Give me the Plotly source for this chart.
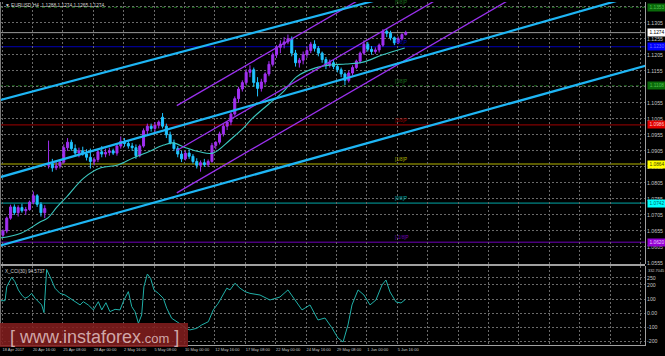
import plotly.graph_objects as go

# ---------------- data ----------------
tick_bars = [0, 16, 32, 48, 64, 80, 96, 112, 128, 144, 160, 176, 192, 208,
             224, 240, 256, 272, 288, 304, 320, 336]
tick_text = ["18 Apr 2017", "20 Apr 16:00", "25 Apr 08:00", "28 Apr 00:00",
             "2 May 16:00", "5 May 08:00", "10 May 00:00", "12 May 16:00",
             "17 May 08:00", "22 May 00:00", "24 May 16:00", "29 May 08:00",
             "1 Jun 00:00", "5 Jun 16:00", "", "", "", "", "", "", "", ""]

candle_bar = [b + 0.5 for b in range(0, 213, 2)]
opens = [1.0642,1.0655,1.0695, 1.0730,1.0712,1.0728, 1.0718,1.0722,1.0745, 1.0765,1.0738,1.0712,
         1.0860,1.0865,1.0852, 1.0858,1.0870,1.0915, 1.0932,1.0912,1.0898, 1.0905,1.0895,1.0885,
         1.0872,1.0878,1.0902, 1.0895,1.0900,1.0905, 1.0898,1.0920,1.0935, 1.0928,1.0920,1.0915,
         1.0890,1.0920,1.0968, 1.0982,1.0975,1.0985, 1.1010,1.0982,1.0955, 1.0930,1.0912,1.0895,
         1.0880,1.0898,1.0888, 1.0872,1.0860,1.0868, 1.0862,1.0872,1.0922, 1.0932,1.0958,1.0982,
         1.0995,1.1020,1.1068, 1.1098,1.1118,1.1150, 1.1158,1.1118,1.1100, 1.1120,1.1145,1.1175,
         1.1205,1.1228,1.1238, 1.1245,1.1255,1.1210, 1.1180,1.1188,1.1205, 1.1218,1.1238,1.1225,
         1.1210,1.1190,1.1172, 1.1180,1.1168,1.1158, 1.1145,1.1125,1.1148, 1.1165,1.1185,1.1210,
         1.1238,1.1222,1.1215, 1.1220,1.1235,1.1278, 1.1272,1.1258,1.1242, 1.1255,1.1268]
highs = [1.0660,1.0700,1.0737, 1.0738,1.0735,1.0740, 1.0730,1.0750,1.0778, 1.0770,1.0745,1.0735,
         1.0937,1.0880,1.0870, 1.0875,1.0925,1.0945, 1.0940,1.0925,1.0915, 1.0918,1.0910,1.0912,
         1.0885,1.0910,1.0920, 1.0912,1.0915,1.0912, 1.0925,1.0950,1.0945, 1.0935,1.0930,1.0925,
         1.0925,1.0975,1.0990, 1.0990,1.0995,1.1000, 1.1023,1.0990,1.0965, 1.0940,1.0920,1.0905,
         1.0905,1.0910,1.0895, 1.0882,1.0875,1.0880, 1.0878,1.0930,1.0935, 1.0965,1.0990,1.0995,
         1.1025,1.1075,1.1105, 1.1125,1.1160,1.1172, 1.1165,1.1135,1.1130, 1.1150,1.1185,1.1212,
         1.1235,1.1250,1.1260, 1.1268,1.1262,1.1220, 1.1195,1.1215,1.1230, 1.1245,1.1250,1.1232,
         1.1215,1.1198,1.1190, 1.1190,1.1175,1.1165, 1.1150,1.1155,1.1172, 1.1190,1.1215,1.1250,
         1.1245,1.1232,1.1228, 1.1240,1.1285,1.1285, 1.1280,1.1262,1.1262, 1.1272,1.1280]
lows = [1.0635,1.0648,1.0690, 1.0705,1.0700,1.0712, 1.0705,1.0718,1.0738, 1.0730,1.0700,1.0695,
        1.0850,1.0840,1.0845, 1.0850,1.0865,1.0905, 1.0905,1.0890,1.0885, 1.0890,1.0875,1.0850,
        1.0860,1.0870,1.0885, 1.0885,1.0890,1.0892, 1.0890,1.0912,1.0918, 1.0912,1.0905,1.0880,
        1.0885,1.0915,1.0955, 1.0965,1.0960,1.0975, 1.0975,1.0945,1.0925, 1.0905,1.0885,1.0870,
        1.0875,1.0880,1.0865, 1.0850,1.0840,1.0855, 1.0855,1.0868,1.0910, 1.0925,1.0950,1.0970,
        1.0985,1.1015,1.1055, 1.1090,1.1110,1.1135, 1.1105,1.1075,1.1090, 1.1112,1.1138,1.1168,
        1.1195,1.1210,1.1225, 1.1238,1.1200,1.1168, 1.1165,1.1175,1.1195, 1.1210,1.1215,1.1200,
        1.1180,1.1160,1.1165, 1.1160,1.1150,1.1135, 1.1110,1.1118,1.1140, 1.1160,1.1178,1.1205,
        1.1215,1.1205,1.1208, 1.1212,1.1230,1.1260, 1.1250,1.1235,1.1238, 1.1250,1.1265]
closes = [1.0655,1.0695,1.0730, 1.0712,1.0728,1.0718, 1.0722,1.0745,1.0765, 1.0738,1.0712,1.0725,
          1.0865,1.0852,1.0858, 1.0870,1.0915,1.0932, 1.0912,1.0898,1.0905, 1.0895,1.0885,1.0872,
          1.0878,1.0902,1.0895, 1.0900,1.0905,1.0898, 1.0920,1.0935,1.0928, 1.0920,1.0915,1.0890,
          1.0920,1.0968,1.0982, 1.0975,1.0985,1.0995, 1.0982,1.0955,1.0930, 1.0912,1.0895,1.0880,
          1.0898,1.0888,1.0872, 1.0860,1.0868,1.0862, 1.0872,1.0922,1.0932, 1.0958,1.0982,1.0995,
          1.1020,1.1068,1.1098, 1.1118,1.1150,1.1158, 1.1118,1.1100,1.1120, 1.1145,1.1175,1.1205,
          1.1228,1.1238,1.1245, 1.1255,1.1210,1.1180, 1.1188,1.1205,1.1218, 1.1238,1.1225,1.1210,
          1.1190,1.1172,1.1180, 1.1168,1.1158,1.1145, 1.1125,1.1148,1.1165, 1.1185,1.1210,1.1238,
          1.1222,1.1215,1.1220, 1.1235,1.1278,1.1272, 1.1258,1.1242,1.1255, 1.1268,1.1274]

ma_bar = [-1, 10, 20, 24, 29, 34, 43, 52, 61, 69, 76, 85, 90, 97, 104, 111, 120, 127,
          132, 143, 148, 155, 165, 173, 181, 190, 200, 212]
ma_val = [1.0633, 1.0648, 1.0683, 1.0695, 1.0730, 1.0761, 1.0820, 1.0852, 1.0861, 1.0883,
          1.0899, 1.0923, 1.0930, 1.0914, 1.0902, 1.0898, 1.0939, 1.0976, 1.1008, 1.1064,
          1.1089, 1.1136, 1.1164, 1.1173, 1.1176, 1.1182, 1.1204, 1.1226]

cci_bar = [-1, 1.6, 2.5, 5.1, 6.8, 8.6, 10.4, 12.1, 13.8, 15.6, 17.4, 19.1, 20.9, 22.1, 23.5,
           25.3, 27.9, 30.5, 33.2, 35.8, 38.4, 41.1, 42.8, 45.4, 48.1, 50.7, 52.5, 54.7, 56.8,
           59.5, 62.1, 64.2, 66.5, 68.3, 70, 71.8, 73.5, 74.7, 76.5, 78.2, 80, 82.3, 84.9, 86.7,
           89.3, 91.9, 94.6, 96.3, 98.9, 102.5, 105.1, 108.6, 111.2, 113.8, 115.6, 118.3, 120,
           122.6, 125.3, 127.9, 130.5, 135.8, 141, 146.3, 150.5, 154.2, 157.9, 162.1, 166.3,
           170, 173.7, 176.8, 179.5, 182.1, 184.2, 187.4, 190.5, 193.7, 196.8, 200, 202.1,
           204.2, 207.4, 210, 212.1]
cci_val = [88, 88, 187, 253, 222, 164, 128, 105, 116, 140, 105, 81, 58, 4, 308, 257, 176, 140,
           128, 105, 81, 58, 81, 58, 23, 81, 23, 74, 11, 27, 23, 93, 152, 46, 11, -71, -13, 187,
           276, 246, 164, 140, 105, 35, -36, -60, -83, -107, -118, -107, -83, -60, 23, 70, 116,
           176, 164, 211, 176, 152, 140, 128, 93, 114, 164, 93, 23, 58, -48, -34, -104, -175,
           -203, -83, 58, 164, 128, 58, 93, 199, 234, 150, 79, 72, 94.57]

# trend lines (bar index, price)
blue_lines = [([-2, 200], [1.1062, 1.1380]),
              ([-2, 340], [1.0821, 1.1401]),
              ([-2, 340], [1.0608, 1.1173])]
purple_lines = [([92, 300], [1.1046, 1.1762]),
                ([92, 300], [1.0906, 1.1622]),
                ([92, 300], [1.0774, 1.1490])]

# Murrey levels
mm_prices = [1.1353, 1.1230, 1.1108, 1.0986, 1.0864, 1.0742, 1.0620]
mm_names = ["[5/8]P", "[4/8]P", "[3/8]P", "[2/8]P", "[1/8]P", "[0/8]P", "[-1/8]P"]
mm_line_colors = ["#1c6e1c", "#0000b4", "#1c6e1c", "#a00000", "#b4b400", "#00a8a8", "#7000b8"]
mm_dash = ["dot", "solid", "dot", "solid", "solid", "solid", "solid"]
mm_box_bg = ["#0a6a0a", "#0000ff", "#0a6a0a", "#e00000", "#ffff00", "#00ffff", "#9400d3"]
mm_box_fg = ["#4fc04f", "#7070ff", "#4fc04f", "#ffc8c8", "#404000", "#006060", "#e8c8ff"]
last_price = 1.1274

price_ticks = [1.0555, 1.0605, 1.0655, 1.0705, 1.0755, 1.0805, 1.0855, 1.0905, 1.0955,
               1.1005, 1.1055, 1.1105, 1.1155, 1.1205, 1.1255, 1.1305, 1.1355]
price_tick_text = ["1.0555", "1.0605", "1.0655", "1.0705", "1.0755", "1.0805", "1.0855", "1.0905",
                   "1.0955", "1.1005", "1.1055", "", "1.1155", "1.1205", "1.1255", "1.1305", ""]
cci_ticks = [-200, -100, 0, 100, 200, 250]
cci_tick_text = ["-200", "-100", "0.00", "100", "200", "250"]

# ---------------- layout helpers ----------------
W, H = 665, 356
ML, MR, MT, MB = 0, 20, 2, 11
PW = W - ML - MR
PH = H - MT - MB


def px_x(x):
    return (x - ML) / PW


def px_y(y):
    return (H - MB - y) / PH


FONT = "Liberation Sans"
TXT = "#c4c4c4"
GRID = "#6a6a6a"

fig = go.Figure()

fig.add_trace(go.Candlestick(
    x=candle_bar, open=opens, high=highs, low=lows, close=closes,
    xaxis="x", yaxis="y",
    increasing=dict(line=dict(color="#a030f0", width=1), fillcolor="#a030f0"),
    decreasing=dict(line=dict(color="#20c4ff", width=1), fillcolor="#20c4ff"),
    whiskerwidth=0, hoverinfo="skip", showlegend=False))

fig.add_trace(go.Scatter(x=ma_bar, y=ma_val, mode="lines", line=dict(color="#3cc8c0", width=1.1, shape="spline"),
                         xaxis="x", yaxis="y", hoverinfo="skip", showlegend=False))

for bx, by in purple_lines:
    fig.add_trace(go.Scatter(x=bx, y=by, mode="lines", line=dict(color="#9a30ee", width=1.3),
                             xaxis="x", yaxis="y", hoverinfo="skip", showlegend=False))
for bx, by in blue_lines:
    fig.add_trace(go.Scatter(x=bx, y=by, mode="lines", line=dict(color="#1eb6f5", width=2.2),
                             xaxis="x", yaxis="y", hoverinfo="skip", showlegend=False))

fig.add_trace(go.Scatter(x=cci_bar, y=cci_val, mode="lines", line=dict(color="#20b0a8", width=1),
                         xaxis="x2", yaxis="y2", hoverinfo="skip", showlegend=False))

xr = [-2 / 1.9, 643 / 1.9]
yr = [1.05519, 1.13696]

shapes = []
annotations = []

for p, c, d in zip(mm_prices, mm_line_colors, mm_dash):
    shapes.append(dict(type="line", xref="paper", yref="y", x0=0, x1=1, y0=p, y1=p,
                       line=dict(color=c, width=1, dash=d), layer="below"))
shapes.append(dict(type="line", xref="paper", yref="y", x0=0, x1=1, y0=last_price, y1=last_price,
                   line=dict(color="#9a9a9a", width=1), layer="below"))

# panel borders
shapes.append(dict(type="line", xref="paper", yref="paper", x0=0, x1=1, y0=px_y(265), y1=px_y(265),
                   line=dict(color="#a0a0a0", width=2)))
shapes.append(dict(type="line", xref="paper", yref="paper", x0=px_x(0.5), x1=px_x(0.5), y0=0, y1=1,
                   line=dict(color="#7a7a7a", width=1)))

# watermark
shapes.append(dict(type="rect", xref="paper", yref="paper", x0=0, x1=px_x(188),
                   y0=px_y(347), y1=px_y(323), fillcolor="rgba(130,30,30,0.88)",
                   line=dict(width=0), layer="above"))
annotations.append(dict(xref="paper", yref="paper", x=px_x(8), y=px_y(337), xanchor="left", yanchor="middle",
                        text="[ www.instaforex<span style='font-size:13px'>.com</span> ]", showarrow=False,
                        font=dict(family=FONT, size=18, color="rgba(225,195,195,0.85)")))

# Murrey level text labels in the chart
for p, n, c in zip(mm_prices, mm_names, mm_line_colors):
    annotations.append(dict(xref="x", yref="y", x=206, y=p, xanchor="left", yanchor="bottom",
                            text=n, showarrow=False,
                            font=dict(family=FONT, size=4.6, color=c)))

# right-axis price boxes
for p, bg, fg in zip(mm_prices, mm_box_bg, mm_box_fg):
    annotations.append(dict(xref="paper", yref="y", x=px_x(647), y=p, xanchor="left", yanchor="middle",
                            text=f"{p:.4f}", showarrow=False, bgcolor=bg, width=18, height=7, borderpad=0,
                            font=dict(family=FONT, size=4.8, color=fg)))
annotations.append(dict(xref="paper", yref="y", x=px_x(647), y=last_price, xanchor="left", yanchor="middle",
                        text=f"{last_price:.4f}", showarrow=False, bgcolor="#ffffff", width=18, height=7,
                        borderpad=0, font=dict(family=FONT, size=4.8, color="#000000")))

# titles
annotations.append(dict(xref="paper", yref="paper", x=px_x(3), y=px_y(5.5), xanchor="left", yanchor="middle",
                        text="▼ EURUSD,H4  1.1288 1.1274 1.1265 1.1274", showarrow=False,
                        font=dict(family=FONT, size=4.8, color="#d0d0d0")))
annotations.append(dict(xref="paper", yref="paper", x=px_x(3), y=px_y(271.5), xanchor="left", yanchor="middle",
                        text="X_CCI(30) 94.5737", showarrow=False,
                        font=dict(family=FONT, size=4.6, color="#d0d0d0")))
annotations.append(dict(xref="paper", yref="paper", x=px_x(647), y=px_y(270), xanchor="left", yanchor="middle",
                        text="332.7045", showarrow=False, borderpad=0,
                        font=dict(family=FONT, size=3.9, color=TXT)))

fig.update_layout(
    width=W, height=H,
    margin=dict(l=ML, r=MR, t=MT, b=MB, pad=0),
    paper_bgcolor="#000000", plot_bgcolor="#000000",
    showlegend=False,
    boxgap=0.25,
    xaxis=dict(domain=[0, 1], anchor="y", range=xr, tickvals=tick_bars, ticktext=tick_text,
               showticklabels=False, showgrid=True, gridcolor=GRID, griddash="2px,2px", gridwidth=1,
               zeroline=False, showline=False, rangeslider=dict(visible=False), fixedrange=True),
    yaxis=dict(domain=[px_y(264), 1], anchor="x", side="right", range=yr, tickvals=price_ticks,
               ticktext=price_tick_text, showgrid=True, gridcolor=GRID,
               griddash="2px,2px", gridwidth=1, zeroline=False, showline=True, linecolor="#a0a0a0",
               linewidth=1, ticks="", tickfont=dict(family=FONT, size=5.2, color=TXT)),
    xaxis2=dict(domain=[0, 1], anchor="y2", range=xr, matches="x", tickvals=tick_bars, ticktext=tick_text,
                showgrid=True, gridcolor=GRID, griddash="2px,2px", gridwidth=1, zeroline=False,
                showline=True, linecolor="#a0a0a0", linewidth=1, ticks="", tickangle=0,
                ticklabelposition="outside right",
                tickfont=dict(family=FONT, size=4.0, color=TXT)),
    yaxis2=dict(domain=[0, px_y(266)], anchor="x2", side="right", range=[-224.4, 332.7],
                tickvals=cci_ticks, ticktext=cci_tick_text, showgrid=True, gridcolor=GRID,
                griddash="2px,2px", gridwidth=1, zeroline=False, showline=True, linecolor="#a0a0a0",
                linewidth=1, ticks="", tickfont=dict(family=FONT, size=5.2, color=TXT)),
    shapes=shapes,
    annotations=annotations,
)

fig.write_html("out.html")
